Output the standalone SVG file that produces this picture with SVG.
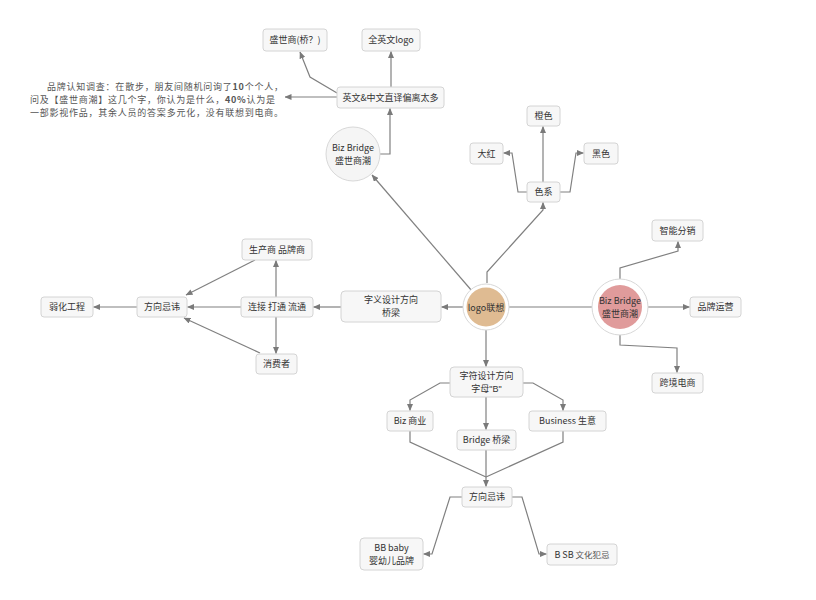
<svg xmlns="http://www.w3.org/2000/svg" width="816" height="600" viewBox="0 0 816 600">
<defs>
<marker id="ar" viewBox="0 0 7 6" refX="6.5" refY="3" markerWidth="7" markerHeight="6" markerUnits="userSpaceOnUse" orient="auto">
<path d="M0,0 L7,3 L0,6 z" fill="#7a7a7a"/>
</marker>
<style>
.n rect{fill:#f7f7f7;stroke:#d4d4d4;stroke-width:1}
text{font-family:"Noto Sans CJK SC","Liberation Sans",sans-serif;font-size:9px;fill:#333;text-anchor:middle}
.note{font-size:9px;text-anchor:start;fill:#555}
#conn path{fill:none;stroke:#808080;stroke-width:1.2}
.a{marker-end:url(#ar)}
</style>
</defs>
<rect width="816" height="600" fill="#ffffff"/>

<g id="conn">
<path class="a" d="M380,154 H390 V108.5"/>
<path class="a" d="M337,93 L310,77 L300,52"/>
<path class="a" d="M391,87 V51.5"/>
<path class="a" d="M337,97 H285"/>
<path class="a" d="M487,283 V272 L543,210 V202.5"/>
<path class="a" d="M543,182 V126.5"/>
<path class="a" d="M527,192 H518 L512,153 H503.5"/>
<path class="a" d="M560,192 H570 L576,153 H583.5"/>
<path class="a" d="M472,291 L372,175"/>
<path class="a" d="M463,307 H441.5"/>
<path class="a" d="M341,307 H313.5"/>
<path class="a" d="M276,297 V260.5"/>
<path class="a" d="M276,317 V353.5"/>
<path class="a" d="M241,307 H187.5"/>
<path class="a" d="M255,260 L186,295"/>
<path class="a" d="M260,353 L184,318"/>
<path class="a" d="M137,307 H93.5"/>
<path d="M509,307 H592"/>
<path class="a" d="M620,279 V268 L678,251 V241.5"/>
<path class="a" d="M648,307 H689.5"/>
<path class="a" d="M620,335 V345 L677,348 V372.5"/>
<path class="a" d="M486,330 V366.5"/>
<path class="a" d="M450,383 H440 L410,400 V410.5"/>
<path class="a" d="M523,383 H533 L563,400 V410.5"/>
<path class="a" d="M486,397 V429.5"/>
<path d="M410,431 V442 L486,477"/>
<path d="M563,431 V442 L486,477"/>
<path class="a" d="M486,450 V486.5"/>
<path class="a" d="M462,497 H450 L432,554 H423.5"/>
<path class="a" d="M512,497 H522 L539,554 H546.5"/>
</g>

<g id="note">
<text class="note" x="47" y="90" textLength="236" lengthAdjust="spacing">品牌认知调查：在散步，朋友间随机问询了<tspan font-weight="bold">10</tspan>个个人，</text>
<text class="note" x="30" y="103" textLength="245" lengthAdjust="spacing">问及【盛世商潮】这几个字，你认为是什么，<tspan font-weight="bold">40%</tspan>认为是</text>
<text class="note" x="30" y="116" textLength="253" lengthAdjust="spacing">一部影视作品，其余人员的答案多元化，没有联想到电商。</text>
</g>

<g id="n-shengshi-qiao" class="n"><rect x="263" y="29" width="64" height="22" rx="3"/><text x="295" y="43">盛世商(桥？)</text></g>
<g id="n-quanyingwen" class="n"><rect x="362" y="29" width="58" height="22" rx="3"/><text x="391" y="43">全英文logo</text></g>
<g id="n-yingwen" class="n"><rect x="337" y="87" width="107" height="21" rx="3"/><text x="390.5" y="100.5">英文&amp;中文直译偏离太多</text></g>
<g id="n-bizbridge-top"><circle cx="353" cy="154" r="27" fill="#f5f5f5" stroke="#d8d8d8"/><text x="353" y="151">Biz Bridge</text><text x="353" y="164">盛世商潮</text></g>

<g id="n-chengse" class="n"><rect x="527" y="106" width="33" height="20" rx="3"/><text x="543.5" y="119">橙色</text></g>
<g id="n-dahong" class="n"><rect x="470" y="143" width="33" height="21" rx="3"/><text x="486.5" y="156.5">大红</text></g>
<g id="n-heise" class="n"><rect x="584" y="143" width="34" height="21" rx="3"/><text x="601" y="156.5">黑色</text></g>
<g id="n-sexi" class="n"><rect x="527" y="182" width="33" height="20" rx="3"/><text x="543.5" y="195">色系</text></g>

<g id="n-logo"><circle cx="486" cy="307" r="23" fill="#ffffff" stroke="#d8d8d8"/><circle cx="486" cy="307" r="19.5" fill="#dfbb92"/><text x="486" y="310.5">logo联想</text></g>

<g id="n-ziyi" class="n"><rect x="341" y="291" width="100" height="31" rx="4"/><text x="391" y="303">字义设计方向</text><text x="391" y="316">桥梁</text></g>
<g id="n-lianjie" class="n"><rect x="241" y="297" width="72" height="20" rx="3"/><text x="277" y="310">连接 打通 流通</text></g>
<g id="n-shengchan" class="n"><rect x="242" y="239" width="70" height="21" rx="3"/><text x="277" y="252.5">生产商 品牌商</text></g>
<g id="n-xiaofei" class="n"><rect x="256" y="354" width="41" height="20" rx="3"/><text x="276.5" y="367">消费者</text></g>
<g id="n-fangxiang-left" class="n"><rect x="137" y="297" width="50" height="20" rx="3"/><text x="162" y="310">方向忌讳</text></g>
<g id="n-ruohua" class="n"><rect x="41" y="297" width="52" height="20" rx="3"/><text x="67" y="310">弱化工程</text></g>

<g id="n-bizbridge-right"><circle cx="620" cy="307" r="28" fill="#ffffff" stroke="#d8d8d8"/><circle cx="620" cy="307" r="22" fill="#e09b9b"/><text x="620" y="304">Biz Bridge</text><text x="620" y="317">盛世商潮</text></g>
<g id="n-zhineng" class="n"><rect x="652" y="220" width="51" height="21" rx="3"/><text x="677.5" y="233.5">智能分销</text></g>
<g id="n-pinpai" class="n"><rect x="690" y="297" width="51" height="20" rx="3"/><text x="715.5" y="310">品牌运营</text></g>
<g id="n-kuajing" class="n"><rect x="652" y="373" width="51" height="20" rx="3"/><text x="677.5" y="386">跨境电商</text></g>

<g id="n-zifu" class="n"><rect x="450" y="367" width="73" height="30" rx="4"/><text x="486.5" y="379">字符设计方向</text><text x="486.5" y="392">字母<tspan font-family="Liberation Sans, sans-serif">"B"</tspan></text></g>
<g id="n-biz" class="n"><rect x="387" y="411" width="46" height="20" rx="3"/><text x="410" y="424">Biz 商业</text></g>
<g id="n-bridge" class="n"><rect x="457" y="430" width="59" height="20" rx="3"/><text x="486.5" y="443">Bridge 桥梁</text></g>
<g id="n-business" class="n"><rect x="529" y="411" width="77" height="20" rx="3"/><text x="567.5" y="424">Business 生意</text></g>
<g id="n-fangxiang-bottom" class="n"><rect x="462" y="487" width="50" height="20" rx="3"/><text x="487" y="500">方向忌讳</text></g>
<g id="n-bbbaby" class="n"><rect x="360" y="538" width="63" height="32" rx="4"/><text x="391.5" y="551">BB baby</text><text x="391.5" y="564">婴幼儿品牌</text></g>
<g id="n-bsb" class="n"><rect x="547" y="544" width="70" height="21" rx="3"/><text x="582" y="557.5">B SB <tspan fill="#555" font-size="8.5">文化犯忌</tspan></text></g>
</svg>
